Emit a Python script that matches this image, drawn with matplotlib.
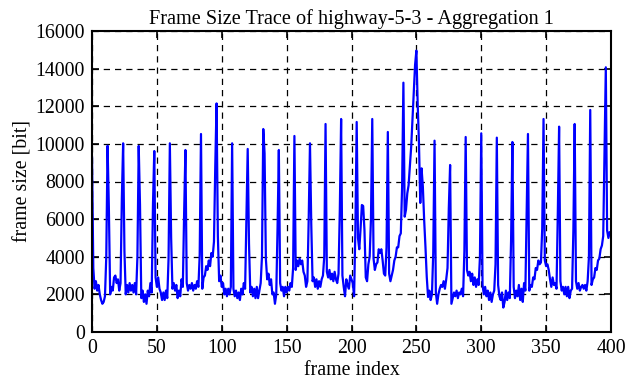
import matplotlib
matplotlib.use("Agg")
import matplotlib.pyplot as plt

# frame sizes [bit], frames 0..399, grouped by GOP of 12
gop_00 = [9300, 3400, 2300, 2700, 2200, 2500, 2000, 1700, 1500, 1600, 1900, 4000]
gop_01 = [9900, 6600, 2000, 2400, 2200, 2900, 3000, 2600, 2800, 2200, 2600, 7100]
gop_02 = [10030, 4300, 2000, 2500, 2100, 2600, 2200, 2500, 2100, 2600, 2000, 4000]
gop_03 = [9890, 6750, 1800, 2200, 1600, 2000, 1500, 2200, 1900, 2600, 2100, 6800]
gop_04 = [9620, 2900, 2400, 2900, 2300, 2100, 1700, 2100, 1700, 2200, 1800, 3900]
gop_05 = [10030, 5000, 2300, 2600, 2200, 2500, 1800, 2200, 1900, 2800, 2400, 6300]
gop_06 = [9675, 2600, 2200, 2500, 2300, 2600, 2200, 2500, 2300, 2700, 2400, 4100]
gop_07 = [10525, 2300, 2900, 3000, 3500, 3300, 3800, 3500, 4200, 4000, 4800, 8800]
gop_08 = [12150, 5100, 2700, 3000, 2400, 2600, 2000, 2300, 1900, 2300, 2000, 2400]
gop_09 = [10030, 2300, 1900, 2200, 1800, 2100, 1700, 2300, 2000, 2600, 2300, 5900]
gop_10 = [9730, 4700, 2100, 2400, 1900, 2300, 1800, 2400, 1800, 2200, 2600, 4000]
gop_11 = [10790, 9500, 3900, 2800, 3100, 2500, 2800, 2000, 2100, 1500, 2000, 5500]
gop_12 = [9675, 2600, 2200, 2400, 1900, 2400, 2100, 2400, 2200, 2600, 2400, 3400]
gop_13 = [10420, 3300, 3800, 3500, 3900, 3600, 3800, 3200, 3000, 2400, 2700, 5950]
gop_14 = [10030, 5700, 2700, 2900, 2400, 2800, 2300, 2700, 2400, 2800, 3000, 4000]
gop_15 = [11057, 3200, 2900, 3300, 2800, 3100, 2700, 3200, 2800, 2600, 3100, 6500]
gop_16 = [11323, 3000, 2400, 1900, 2800, 2500, 2300, 3000, 2800, 2600, 1900, 5500]
gop_17 = [11164, 5000, 4400, 5500, 6750, 6700, 5400, 2900, 2700, 3600, 4000, 6000]
gop_18 = [11323, 3900, 3300, 3600, 3700, 4400, 4200, 4400, 3800, 3100, 3000, 4500]
gop_19 = [10632, 3100, 2700, 3000, 3300, 3800, 4000, 4500, 4500, 5100, 5245, 7700]
gop_20 = [13253, 6130, 6500, 7370, 7800, 8790, 9850, 11270, 12690, 14200, 14955, 12150]
gop_21 = [10030, 6860, 8700, 7720, 5950, 4530, 2930, 1860, 2200, 1700, 2000, 4200]
gop_22 = [10170, 2100, 1500, 2000, 2300, 2500, 2400, 2700, 2300, 2800, 3400, 6600]
gop_23 = [8878, 1500, 1800, 2100, 1900, 2200, 1800, 2100, 2000, 2300, 1900, 4300]
gop_24 = [10366, 3300, 3000, 3200, 2700, 3100, 2500, 2900, 2400, 2800, 2500, 4000]
gop_25 = [10561, 2500, 2000, 2400, 1900, 2200, 1700, 2100, 1600, 2000, 2200, 3600]
gop_26 = [10331, 2500, 1900, 1700, 2100, 1300, 1600, 2200, 1700, 2100, 1800, 4900]
gop_27 = [10100, 2400, 1800, 2200, 1900, 2500, 1700, 2300, 1600, 2600, 2200, 6500]
gop_28 = [10526, 2200, 2500, 2400, 2900, 2800, 3400, 3300, 3800, 3600, 3700, 5500]
gop_29 = [11323, 3800, 3500, 3600, 3300, 2800, 2400, 2900, 2500, 2600, 2300, 6300]
gop_30 = [10916, 2700, 2200, 2400, 2000, 2400, 1900, 2400, 1800, 2200, 2300, 5400]
gop_31 = [11057, 2700, 2300, 2600, 2200, 2400, 2500, 2300, 2500, 2200, 2700, 4000]
gop_32 = [11802, 2500, 2800, 2900, 3400, 3300, 3800, 3900, 4400, 4600, 5100, 9700]
gop_33 = [14070, 5400, 5000, 5300]

frame_sizes = (gop_00 + gop_01 + gop_02 + gop_03 + gop_04 + gop_05 + gop_06 + gop_07
               + gop_08 + gop_09 + gop_10 + gop_11 + gop_12 + gop_13 + gop_14 + gop_15
               + gop_16 + gop_17 + gop_18 + gop_19 + gop_20 + gop_21 + gop_22 + gop_23
               + gop_24 + gop_25 + gop_26 + gop_27 + gop_28 + gop_29 + gop_30 + gop_31
               + gop_32 + gop_33)
frame_index = list(range(len(frame_sizes)))

x_ticks = [0, 50, 100, 150, 200, 250, 300, 350, 400]
y_ticks = [0, 2000, 4000, 6000, 8000, 10000, 12000, 14000, 16000]

title = "Frame Size Trace of highway-5-3 - Aggregation 1"
xlabel = "frame index"
ylabel = "frame size [bit]"

plt.rcParams['font.family'] = ['Liberation Serif', 'DejaVu Serif']

fig = plt.figure(figsize=(6.26, 3.82), dpi=100)
ax = fig.add_axes([92/626, 50/382, (611-92)/626, (332-31)/382])

ax.plot(frame_index, frame_sizes, color='#0000ff', linewidth=1.6)

ax.set_xlim(0, 400)
ax.set_ylim(0, 16000)
ax.set_xticks(x_ticks)
ax.set_yticks(y_ticks)
ax.set_xticklabels([str(v) for v in x_ticks])
ax.set_yticklabels([str(v) for v in y_ticks])
ax.tick_params(direction='in', length=5, width=1.2, top=True, right=True,
               labelsize=14.3, colors='black', pad=5)
ax.grid(True, color='black', linestyle=(0, (5, 4)), linewidth=0.9)
for s in ax.spines.values():
    s.set_linewidth(1.5)
    s.set_color('black')

ax.set_title(title, fontsize=14.6, pad=5)
ax.set_xlabel(xlabel, fontsize=14.3, labelpad=2)
ax.set_ylabel(ylabel, fontsize=14.3, labelpad=2)

fig.savefig("out.png", dpi=100)
